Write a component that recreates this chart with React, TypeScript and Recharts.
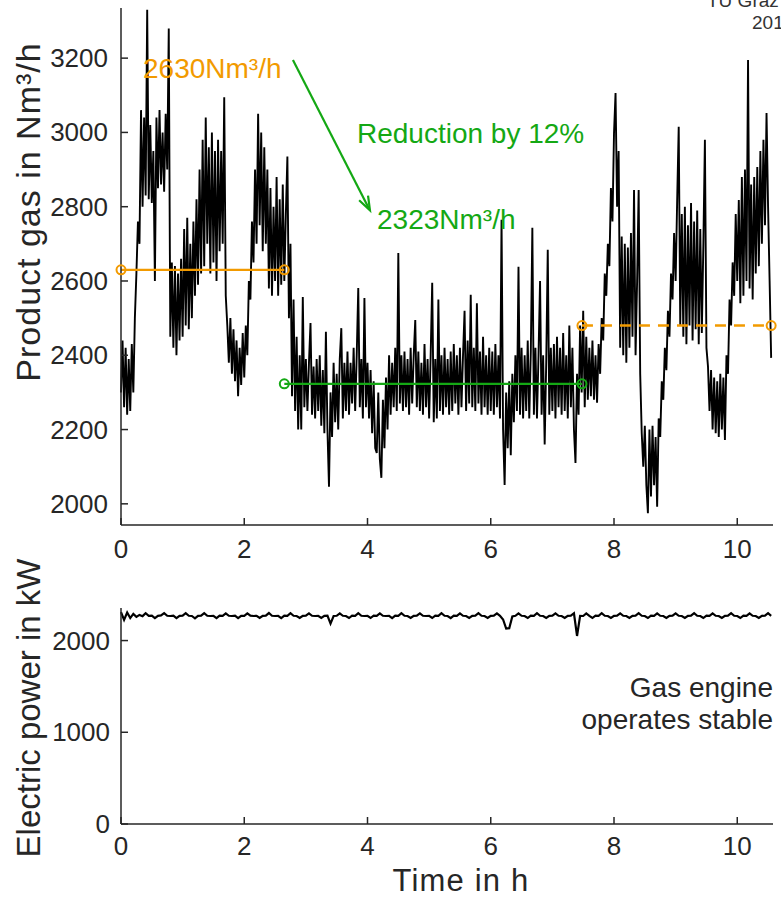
import React from 'react';
import { LineChart, Line, XAxis, YAxis, ReferenceLine, ReferenceDot } from 'recharts';

// ---------- data ----------
const GAS_STEP_H = 0.025; // sampling interval of the read-off gas series (hours)
const POWER_STEP_H = 0.05; // sampling interval of the read-off power series (hours)

// Product gas flow (Nm³/h), one row per hour, samples every 0.025 h
const gasH0 = [2300, 2440, 2260, 2420, 2240, 2390, 2250, 2430, 2300, 2500, 2620, 2760, 2700, 3060, 2800, 3040, 2830, 3330, 2820, 3020, 2810, 2950, 2600, 3040, 2850, 3060, 2860, 3000, 2840, 3050, 2900, 3280, 2450, 2650, 2420, 2640, 2400, 2620, 2440, 2660];
const gasH1 = [2450, 2740, 2480, 2770, 2470, 2700, 2500, 2760, 2560, 2820, 2590, 2900, 2620, 2980, 2640, 3040, 2700, 2960, 2620, 3000, 2650, 2950, 2600, 2980, 2680, 2950, 2700, 3095, 2560, 2480, 2380, 2500, 2350, 2470, 2330, 2440, 2290, 2420, 2320, 2460];
const gasH2 = [2340, 2480, 2400, 2600, 2550, 2760, 2650, 2900, 2700, 3050, 2750, 3000, 2680, 2960, 2700, 2900, 2580, 2850, 2560, 2800, 2600, 2880, 2560, 2820, 2590, 2860, 2600, 2780, 2935, 2500, 2700, 2290, 2550, 2250, 2450, 2200, 2400, 2200, 2557, 2260];
const gasH3 = [2390, 2250, 2380, 2487, 2240, 2370, 2230, 2390, 2250, 2400, 2210, 2360, 2190, 2463, 2200, 2046, 2300, 2180, 2380, 2220, 2350, 2200, 2390, 2473, 2230, 2380, 2250, 2410, 2240, 2380, 2270, 2420, 2250, 2400, 2581, 2260, 2390, 2230, 2554, 2260];
const gasH4 = [2380, 2230, 2360, 2190, 2330, 2150, 2137, 2300, 2120, 2070, 2280, 2150, 2340, 2200, 2400, 2240, 2380, 2260, 2420, 2250, 2675, 2270, 2400, 2250, 2410, 2260, 2390, 2240, 2420, 2270, 2400, 2495, 2260, 2410, 2250, 2380, 2240, 2430, 2260, 2390];
const gasH5 = [2230, 2400, 2595, 2220, 2390, 2230, 2550, 2250, 2400, 2240, 2420, 2260, 2390, 2240, 2410, 2250, 2430, 2270, 2400, 2240, 2420, 2260, 2400, 2520, 2250, 2440, 2270, 2563, 2260, 2420, 2250, 2540, 2270, 2410, 2240, 2450, 2260, 2400, 2240, 2420];
const gasH6 = [2250, 2410, 2240, 2430, 2260, 2400, 2230, 2765, 2200, 2051, 2300, 2150, 2330, 2131, 2350, 2220, 2400, 2250, 2638, 2240, 2420, 2230, 2400, 2250, 2440, 2230, 2410, 2743, 2240, 2420, 2230, 2400, 2600, 2240, 2400, 2160, 2380, 2684, 2240, 2420];
const gasH7 = [2250, 2430, 2230, 2450, 2260, 2420, 2240, 2460, 2250, 2400, 2230, 2480, 2260, 2420, 2200, 2110, 2350, 2240, 2480, 2300, 2520, 2260, 2450, 2280, 2420, 2290, 2440, 2280, 2400, 2272, 2430, 2350, 2500, 2440, 2620, 2560, 2700, 2640, 2850, 2760];
const gasH8 = [2998, 3106, 2800, 2950, 2420, 2720, 2400, 2700, 2380, 2690, 2420, 2729, 2450, 2845, 2400, 2600, 2845, 2350, 2190, 2100, 2210, 2050, 1975, 2200, 2020, 2210, 2050, 2180, 1992, 2230, 2180, 2330, 2280, 2420, 2360, 2520, 2450, 2620, 2550, 2729];
const gasH9 = [2600, 2818, 3015, 2480, 2780, 2450, 2800, 2430, 2750, 2480, 2810, 2440, 2760, 2470, 2790, 2430, 2740, 2460, 2700, 2980, 2420, 2370, 2250, 2360, 2200, 2340, 2190, 2330, 2180, 2350, 2200, 2340, 2172, 2400, 2350, 2550, 2480, 2650, 2560, 2780];
const gasH10 = [2600, 2818, 2540, 2880, 2560, 2900, 2600, 3195, 2580, 2860, 2550, 2880, 2620, 2907, 2640, 2950, 2700, 2980, 2750, 3052, 2800, 2600, 2393];

// Electric power of the gas engine (kW), samples every 0.05 h
const powH0 = [2310, 2225, 2305, 2245, 2290, 2258, 2280, 2266, 2298, 2270, 2272, 2244, 2270, 2274, 2298, 2270, 2268, 2272, 2245, 2270];
const powH1 = [2272, 2298, 2270, 2268, 2243, 2270, 2272, 2299, 2270, 2268, 2270, 2245, 2272, 2270, 2297, 2270, 2268, 2272, 2244, 2270];
const powH2 = [2270, 2296, 2272, 2268, 2270, 2246, 2270, 2272, 2300, 2270, 2268, 2270, 2244, 2272, 2270, 2298, 2270, 2268, 2246, 2270];
const powH3 = [2272, 2296, 2270, 2268, 2270, 2246, 2270, 2272, 2185, 2268, 2270, 2296, 2270, 2268, 2246, 2272, 2270, 2298, 2270, 2268];
const powH4 = [2270, 2246, 2272, 2270, 2296, 2270, 2268, 2270, 2244, 2272, 2270, 2298, 2270, 2268, 2246, 2270, 2272, 2296, 2270, 2268];
const powH5 = [2270, 2246, 2272, 2270, 2298, 2270, 2268, 2244, 2272, 2270, 2296, 2270, 2268, 2246, 2270, 2272, 2298, 2270, 2268, 2246];
const powH6 = [2270, 2272, 2296, 2270, 2230, 2130, 2135, 2262, 2270, 2296, 2270, 2268, 2246, 2272, 2270, 2298, 2270, 2268, 2246, 2270];
const powH7 = [2272, 2296, 2270, 2268, 2246, 2270, 2272, 2298, 2050, 2270, 2268, 2296, 2270, 2246, 2272, 2270, 2298, 2270, 2268, 2246];
const powH8 = [2270, 2272, 2296, 2270, 2268, 2246, 2270, 2272, 2298, 2270, 2268, 2246, 2272, 2270, 2296, 2270, 2268, 2246, 2270, 2272];
const powH9 = [2296, 2270, 2268, 2246, 2270, 2272, 2298, 2270, 2268, 2246, 2272, 2270, 2296, 2270, 2268, 2246, 2270, 2272, 2298, 2270];
const powH10 = [2268, 2246, 2272, 2270, 2296, 2270, 2268, 2246, 2270, 2272, 2298, 2270];

// axes
const timeTicks = [0, 2, 4, 6, 8, 10];
const timeDomain = [0, 10.58];
const gasTicks = [2000, 2200, 2400, 2600, 2800, 3000, 3200];
const gasDomain = [1943, 3335];
const powerTicks = [0, 1000, 2000];
const powerDomain = [0, 2355];

// annotations
const meanBefore = 2630;
const meanReduced = 2323;
const meanLater = 2480;
const periodBefore = [0, 2.65];
const periodReduced = [2.65, 7.48];
const periodLater = [7.48, 10.55];
const arrowStart = { t: 2.79, v: 3195 };
const arrowEnd = { t: 4.04, v: 2790 };

// ---------- tables ----------
const gasFlow = [...gasH0, ...gasH1, ...gasH2, ...gasH3, ...gasH4, ...gasH5, ...gasH6, ...gasH7, ...gasH8, ...gasH9, ...gasH10];
const power = [...powH0, ...powH1, ...powH2, ...powH3, ...powH4, ...powH5, ...powH6, ...powH7, ...powH8, ...powH9, ...powH10];
const gasData = gasFlow.map((v, i) => ({ t: Math.round(i * GAS_STEP_H * 1000) / 1000, gas: v }));
const powerData = power.map((v, i) => ({ t: Math.round(i * POWER_STEP_H * 1000) / 1000, power: v }));

// ---------- styles ----------
const FONT = '"Liberation Sans", Arial, Helvetica, sans-serif';
const AXIS = '#262626';
const TEXT = '#262626';
const ORANGE = '#f29a00';
const GREEN = '#14a814';
const TICK_FS = 26;

const XTick = (props: any) => {
  const { x, y, payload, labelOffset } = props;
  return (
    <g>
      <line x1={x} y1={y} x2={x} y2={y - 7} stroke={AXIS} strokeWidth={1.5} />
      <text x={x} y={y + labelOffset} textAnchor="middle" fontSize={TICK_FS} fontFamily={FONT} fill={TEXT}>
        {payload.value}
      </text>
    </g>
  );
};

const YTick = (props: any) => {
  const { x, y, payload, gap } = props;
  return (
    <g>
      <line x1={x} y1={y} x2={x + 7} y2={y} stroke={AXIS} strokeWidth={1.5} />
      <text x={x - gap} y={y + 9} textAnchor="end" fontSize={TICK_FS} fontFamily={FONT} fill={TEXT}>
        {payload.value}
      </text>
    </g>
  );
};

const ArrowShape = (props: any) => {
  const { x1, y1, x2, y2 } = props;
  const dx = x2 - x1;
  const dy = y2 - y1;
  const len = Math.sqrt(dx * dx + dy * dy) || 1;
  const ux = dx / len;
  const uy = dy / len;
  const hl = 14;
  const hw = 5;
  const bx = x2 - ux * hl;
  const by = y2 - uy * hl;
  return (
    <g>
      <line x1={x1} y1={y1} x2={x2 - ux * 2} y2={y2 - uy * 2} stroke={GREEN} strokeWidth={2.2} />
      <polyline
        points={`${bx - uy * hw},${by + ux * hw} ${x2},${y2} ${bx + uy * hw},${by - ux * hw}`}
        fill="none"
        stroke={GREEN}
        strokeWidth={2.2}
      />
    </g>
  );
};

const axisLine = { stroke: AXIS, strokeWidth: 1.5 };

export default function App() {
  return (
    <div style={{ position: 'absolute', left: 0, top: 0, width: 781, height: 898, overflow: 'hidden', background: '#fff' }}>
      <div style={{ position: 'absolute', left: 0, top: 0 }}>
        <LineChart width={781} height={590} data={gasData} margin={{ top: 8, right: 8, bottom: 0, left: 0 }}>
          <XAxis
            dataKey="t"
            type="number"
            domain={timeDomain}
            ticks={timeTicks}
            interval={0}
            height={65}
            tickSize={0}
            tickMargin={0}
            tickLine={false}
            axisLine={axisLine}
            tick={(p: any) => <XTick {...p} labelOffset={33} />}
          />
          <YAxis
            type="number"
            domain={gasDomain}
            ticks={gasTicks}
            interval={0}
            width={121}
            tickSize={0}
            tickMargin={0}
            tickLine={false}
            axisLine={axisLine}
            allowDataOverflow
            tick={(p: any) => <YTick {...p} gap={13} />}
          />
          <Line dataKey="gas" type="linear" stroke="#000" strokeWidth={1.9} dot={false} isAnimationActive={false} />
          <ReferenceLine segment={[{ x: periodBefore[0], y: meanBefore }, { x: periodBefore[1], y: meanBefore }]} stroke={ORANGE} strokeWidth={2.4} />
          <ReferenceLine segment={[{ x: periodReduced[0], y: meanReduced }, { x: periodReduced[1], y: meanReduced }]} stroke={GREEN} strokeWidth={2.4} />
          <ReferenceLine segment={[{ x: periodLater[0], y: meanLater }, { x: periodLater[1], y: meanLater }]} stroke={ORANGE} strokeWidth={2.4} strokeDasharray="11 8" />
          <ReferenceLine segment={[{ x: arrowStart.t, y: arrowStart.v }, { x: arrowEnd.t, y: arrowEnd.v }]} shape={ArrowShape} />
          <ReferenceDot x={periodBefore[0]} y={meanBefore} r={4.5} fill="none" stroke={ORANGE} strokeWidth={2} />
          <ReferenceDot x={periodBefore[1]} y={meanBefore} r={4.5} fill="none" stroke={ORANGE} strokeWidth={2} />
          <ReferenceDot x={periodReduced[0]} y={meanReduced} r={4.5} fill="none" stroke={GREEN} strokeWidth={2} />
          <ReferenceDot x={periodReduced[1]} y={meanReduced} r={4.5} fill="none" stroke={GREEN} strokeWidth={2} />
          <ReferenceDot x={periodLater[0]} y={meanLater} r={4.5} fill="none" stroke={ORANGE} strokeWidth={2} />
          <ReferenceDot x={periodLater[1]} y={meanLater} r={4.5} fill="none" stroke={ORANGE} strokeWidth={2} />
        </LineChart>
      </div>
      <div style={{ position: 'absolute', left: 0, top: 600 }}>
        <LineChart width={781} height={298} data={powerData} margin={{ top: 8, right: 8, bottom: 0, left: 0 }}>
          <XAxis
            dataKey="t"
            type="number"
            domain={timeDomain}
            ticks={timeTicks}
            interval={0}
            height={74}
            tickSize={0}
            tickMargin={0}
            tickLine={false}
            axisLine={axisLine}
            tick={(p: any) => <XTick {...p} labelOffset={31} />}
          />
          <YAxis
            type="number"
            domain={powerDomain}
            ticks={powerTicks}
            interval={0}
            width={121}
            tickSize={0}
            tickMargin={0}
            tickLine={false}
            axisLine={axisLine}
            tick={(p: any) => <YTick {...p} gap={11} />}
          />
          <Line dataKey="power" type="linear" stroke="#000" strokeWidth={2.2} dot={false} isAnimationActive={false} />
        </LineChart>
      </div>
      <svg width={781} height={898} style={{ position: 'absolute', left: 0, top: 0, pointerEvents: 'none' }}>
        <g fontFamily={FONT}>
          <text x={143} y={78} fontSize={28} fill={ORANGE}>2630Nm³/h</text>
          <text x={357} y={143} fontSize={28} fill={GREEN}>Reduction by 12%</text>
          <text x={377} y={229} fontSize={28} fill={GREEN}>2323Nm³/h</text>
          <text x={773} y={697} fontSize={28} fill={TEXT} textAnchor="end">Gas engine</text>
          <text x={773} y={729} fontSize={28} fill={TEXT} textAnchor="end">operates stable</text>
          <text x={707} y={7} fontSize={19} fill="#333">TU Graz I</text>
          <text x={752} y={29} fontSize={19} fill="#333">201</text>
          <text x={40} y={212} fontSize={34} letterSpacing={1} fill={TEXT} textAnchor="middle" transform="rotate(-90 40 212)">Product gas in Nm³/h</text>
          <text x={40} y={708} fontSize={33} fill={TEXT} textAnchor="middle" transform="rotate(-90 40 708)">Electric power in kW</text>
          <text x={461} y={891} fontSize={31} letterSpacing={1.2} fill={TEXT} textAnchor="middle">Time in h</text>
        </g>
      </svg>
    </div>
  );
}
